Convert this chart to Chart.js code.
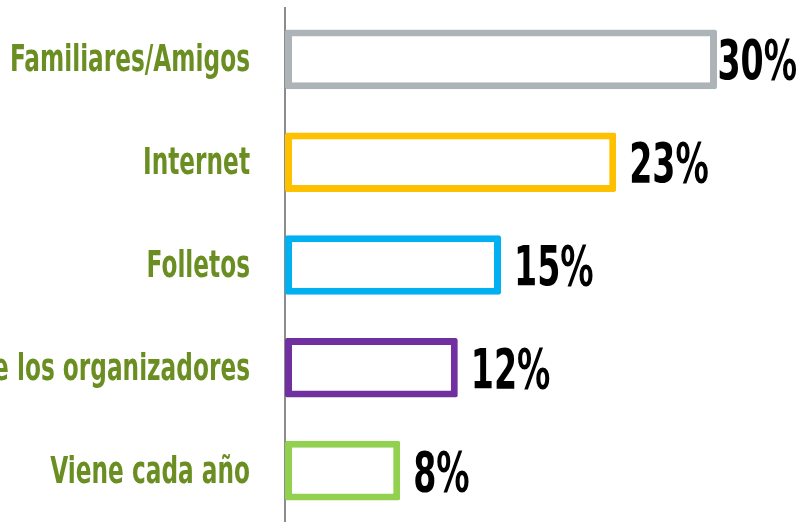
<!DOCTYPE html>
<html>
<head>
<meta charset="utf-8">
<script src="https://cdn.jsdelivr.net/npm/chart.js@4.4.1/dist/chart.umd.min.js"></script>
<style>
  html, body { margin: 0; padding: 0; background: #fff; }
  #wrap { width: 799px; height: 522px; }
</style>
</head>
<body>
<div id="wrap"><canvas id="grafico"></canvas></div>
<script>
// categorias y valores (%)
const categorias = ['Familiares/Amigos', 'Internet', 'Folletos', 'Invitación de los organizadores', 'Viene cada año'];
const valores = [30, 23, 15, 12, 8];
const colores = ['#ADB4B8', '#FFC000', '#00B0F0', '#7030A0', '#92D050'];

const fuenteNarrow = '"DejaVu Sans Condensed", "Liberation Sans Narrow", sans-serif';

// texto estrecho: se dibuja comprimido en horizontal
function textoEstrecho(ctx, txt, x, y, escala, alinear) {
    const w = ctx.measureText(txt).width * escala;
    ctx.save();
    ctx.translate(alinear === 'right' ? x - w : x, y);
    ctx.scale(escala, 1);
    ctx.fillText(txt, 0, 0);
    ctx.restore();
    return w;
}

// etiquetas del eje y (categorias) y etiquetas de valor
const etiquetas = {
    id: 'etiquetas',
    afterDatasetsDraw(chart) {
        const ctx = chart.ctx;
        const ejeY = chart.scales.y;
        const meta = chart.getDatasetMeta(0);
        ctx.save();
        ctx.textBaseline = 'alphabetic';

        ctx.font = 'bold 38px ' + fuenteNarrow;
        ctx.fillStyle = '#6B8E23';
        chart.data.labels.forEach((lab, i) => {
            const y = ejeY.getPixelForTick(i);
            textoEstrecho(ctx, lab, ejeY.right - 35, y + 12, 0.68, 'right');
        });

        ctx.font = 'bold 56px ' + fuenteNarrow;
        ctx.fillStyle = '#000';
        const escala = 0.66;
        meta.data.forEach((barra, i) => {
            const txt = valores[i] + '%';
            const w = ctx.measureText(txt).width * escala;
            let x = barra.x + 13;
            if (x + w > chart.width - 2) x = chart.width - 2 - w;
            textoEstrecho(ctx, txt, x, barra.y + 20, escala, 'left');
        });
        ctx.restore();
    }
};

new Chart(document.getElementById('grafico'), {
    type: 'bar',
    data: {
        labels: categorias,
        datasets: [{
            data: valores,
            backgroundColor: '#FFFFFF',
            borderColor: colores,
            borderWidth: 7,
            borderSkipped: false,
            borderRadius: 2,
            categoryPercentage: 1,
            barPercentage: 0.58
        }]
    },
    options: {
        indexAxis: 'y',
        responsive: true,
        maintainAspectRatio: false,
        animation: false,
        layout: { padding: { top: 8, right: 10, bottom: 0, left: 0 } },
        plugins: {
            legend: { display: false },
            tooltip: { enabled: false }
        },
        scales: {
            x: {
                display: false,
                min: 0,
                max: 35
            },
            y: {
                afterFit(scale) {
                    scale.width = 285;
                    scale.paddingTop = 0;
                    scale.paddingBottom = 0;
                },
                grid: { display: false, drawTicks: false },
                border: { display: true, color: '#8C8C8C', width: 2 },
                ticks: { display: false }
            }
        }
    },
    plugins: [etiquetas]
});
</script>
</body>
</html>
